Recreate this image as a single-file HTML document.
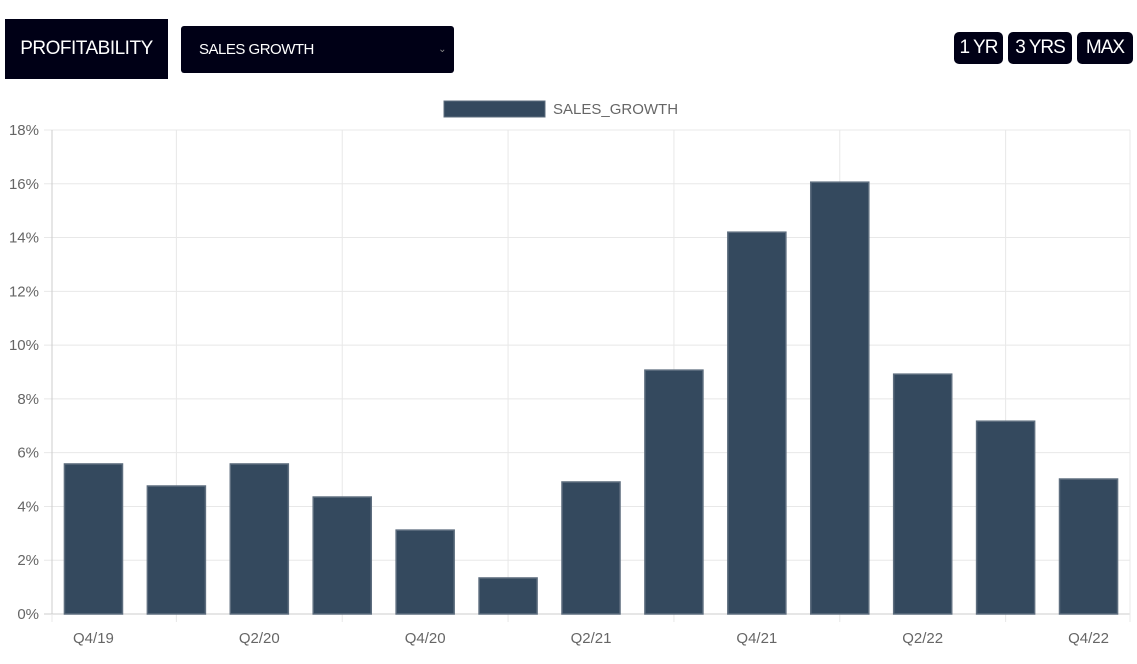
<!DOCTYPE html>
<html><head><meta charset="utf-8"><style>
body{margin:0;width:1137px;height:664px;background:#fff;font-family:"Liberation Sans",sans-serif;position:relative;overflow:hidden}
.box{position:absolute;background:#000016;color:#fff;display:flex;align-items:center}
</style></head><body>
<div class="box" style="left:5px;top:19px;width:163px;height:60px;justify-content:center;font-size:19px;letter-spacing:-0.5px">PROFITABILITY</div>
<div class="box" style="left:181px;top:26px;width:273px;height:47px;border-radius:3px;font-size:15px;letter-spacing:-0.5px"><span style="margin-left:18px">SALES GROWTH</span><span style="position:absolute;right:8px;font-size:10px;color:#888">⌄</span></div>
<div class="box" style="left:954px;top:32px;width:49px;height:32px;border-radius:5px;justify-content:center;font-size:19px;letter-spacing:-1px">1 YR</div>
<div class="box" style="left:1008px;top:32px;width:64px;height:32px;border-radius:5px;justify-content:center;font-size:19px;letter-spacing:-1px">3 YRS</div>
<div class="box" style="left:1077px;top:32px;width:56px;height:32px;border-radius:5px;justify-content:center;font-size:19px;letter-spacing:-1px">MAX</div>
<svg id="chart" width="1137" height="664" style="position:absolute;left:0;top:0"></svg>
<script>
const categories=["Q4/19","Q1/20","Q2/20","Q3/20","Q4/20","Q1/21","Q2/21","Q3/21","Q4/21","Q1/22","Q2/22","Q3/22","Q4/22"];
const salesGrowth=[5.58,4.76,5.58,4.35,3.12,1.34,4.91,9.07,14.2,16.06,8.92,7.17,5.02];
const yTicks=[0,2,4,6,8,10,12,14,16,18];
const ns="http://www.w3.org/2000/svg",svg=document.getElementById("chart");
const L=52,R=1130,T=130,B=614,yMax=18;
const bw=(R-L)/categories.length;
const y=v=>B-(v/yMax)*(B-T);
const x=i=>L+bw*i;
function mk(t,a,txt){const e=document.createElementNS(ns,t);for(const k in a)e.setAttribute(k,a[k]);if(txt!=null)e.textContent=txt;svg.appendChild(e);return e;}
yTicks.forEach(t=>{
const g=mk("line",{x1:44,x2:R,y1:y(t),y2:y(t),stroke:t===0?"#ccc":"#e8e8e8","stroke-width":1});


const lb=mk("text",{x:39,y:y(t)+5,"text-anchor":"end","font-size":15,fill:"#666"},t+"%");


});
const vx=[L];for(let k=0;x(2*k+1.5)<R;k++)vx.push(x(2*k+1.5));vx.push(R);
vx.forEach(p=>{const g=mk("line",{x1:p,x2:p,y1:T,y2:622,stroke:"#e8e8e8","stroke-width":1});

});
mk("line",{x1:L,x2:L,y1:T,y2:B,stroke:"#ccc"});
salesGrowth.forEach((v,i)=>{
const r=mk("rect",{x:x(i)+bw*0.15,y:y(v),width:bw*0.7,height:B-y(v),fill:"#34495e",stroke:"#5d6d7e","stroke-width":1.5});


});
categories.forEach((c,i)=>{if(i%2)return;
const t=mk("text",{x:x(i)+bw/2,y:643,"text-anchor":"middle","font-size":15,fill:"#666"},c);

});
const lr=mk("rect",{x:444,y:101,width:101,height:16,fill:"#34495e",stroke:"#5d6d7e"});


const lt=mk("text",{x:553,y:114,"font-size":15,fill:"#666"},"SALES_GROWTH");


</script>
</body></html>
